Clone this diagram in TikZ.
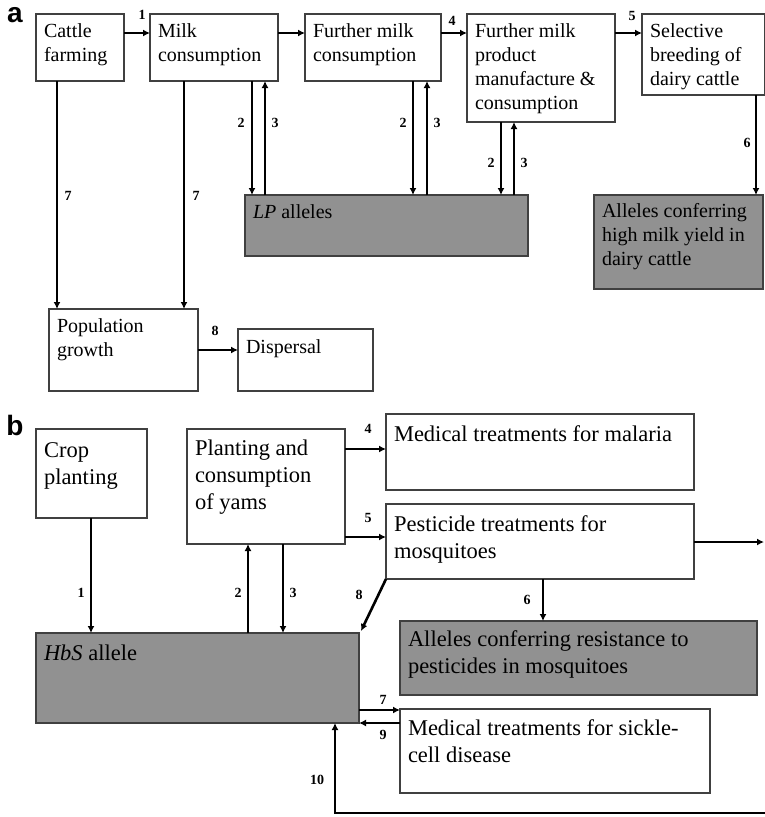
\documentclass[tikz,border=0pt]{standalone}
\usepackage{fontspec}
\setmainfont{Liberation Serif}
\newfontfamily\lblfont{Liberation Sans}
\usetikzlibrary{arrows.meta}
\tikzset{
  bx/.style={draw=black!75, line width=1.6pt, fill=white, anchor=north west, inner xsep=8pt, inner ysep=0pt, outer sep=0pt},
  gbx/.style={bx, fill=black!43},
  fa/.style={font=\fontsize{20}{24.3}\selectfont},
  fb/.style={font=\fontsize{22.5}{27}\selectfont},
  arr/.style={line width=2.6pt, -{Latex[length=7pt,width=7pt]}},
  num/.style={font=\fontsize{14}{14}\selectfont\bfseries, inner sep=0pt},
  panel/.style={font=\lblfont\fontsize{28}{28}\selectfont\bfseries, inner sep=0pt},
}
% name, style, x1, y1, x2, y2, first baseline offset, text
\newcommand\boxnode[8]{%
  \node[#2] (#1) at (#3,#4) {\begin{minipage}[t][\dimexpr #6pt-#4pt\relax][t]{\dimexpr #5pt-#3pt-16pt\relax}\raggedright\rule{0pt}{#7pt}#8\end{minipage}};}
\begin{document}
\begin{tikzpicture}[x={(1pt,0)}, y={(0,-1pt)}]
\useasboundingbox[fill=white] (0,0) rectangle (765,817);

% ---------- panel a ----------
\node[panel] (pa) at (15,15) {a};
\boxnode{cattle}{bx,fa}{36}{14}{124}{81}{23}{Cattle\\farming}
\boxnode{milk}{bx,fa}{150}{14}{278}{81}{23}{Milk\\consumption}
\boxnode{further}{bx,fa}{305}{14}{441}{81}{23}{Further milk\\consumption}
\boxnode{manuf}{bx,fa}{467}{14}{615}{122}{23}{Further milk\\product\\manufacture \&\\consumption}
\boxnode{select}{bx,fa}{642}{14}{765}{95}{23}{Selective\\breeding of\\dairy cattle}
\boxnode{lp}{gbx,fa}{245}{195}{528}{256}{23}{\textit{LP} alleles}
\boxnode{highmilk}{gbx,fa}{594}{195}{763}{289}{22}{Alleles conferring\\high milk yield in\\dairy cattle}
\boxnode{pop}{bx,fa}{49}{309}{198}{391}{23}{Population\\growth}
\boxnode{disp}{bx,fa}{238}{329}{373}{391}{24}{Dispersal}

\draw[arr] (cattle.east |- 0,33) -- (milk.west |- 0,33);
\draw[arr] (milk.east |- 0,33) -- (further.west |- 0,33);
\draw[arr] (further.east |- 0,33) -- (manuf.west |- 0,33);
\draw[arr] (manuf.east |- 0,33) -- (select.west |- 0,33);
\draw[arr] (select.south -| 756,0) -- (highmilk.north -| 756,0);
\draw[arr] (milk.south -| 252,0) -- (lp.north -| 252,0);
\draw[arr] (lp.north -| 265,0) -- (milk.south -| 265,0);
\draw[arr] (further.south -| 413,0) -- (lp.north -| 413,0);
\draw[arr] (lp.north -| 427,0) -- (further.south -| 427,0);
\draw[arr] (manuf.south -| 501,0) -- (lp.north -| 501,0);
\draw[arr] (lp.north -| 514,0) -- (manuf.south -| 514,0);
\draw[arr] (cattle.south -| 57,0) -- (pop.north -| 57,0);
\draw[arr] (milk.south -| 184,0) -- (pop.north -| 184,0);
\draw[arr] (pop.east |- 0,350) -- (disp.west |- 0,350);

\node[num] (a1) at (142,15) {1};
\node[num] (a4) at (452,21) {4};
\node[num] (a5) at (632,16) {5};
\node[num] (a6) at (747,143) {6};
\node[num] (a2x) at (241,123) {2};
\node[num] (a3x) at (275,123) {3};
\node[num] (a2y) at (403,123) {2};
\node[num] (a3y) at (437,123) {3};
\node[num] (a2z) at (491,163) {2};
\node[num] (a3z) at (524,163) {3};
\node[num] (a7x) at (68,196) {7};
\node[num] (a7y) at (196,196) {7};
\node[num] (a8) at (215,331) {8};

% ---------- panel b ----------
\node[panel] (pb) at (15,425) {b};
\boxnode{crop}{bx,fb}{36}{429}{147}{518}{28}{Crop\\planting}
\boxnode{yams}{bx,fb}{187}{429}{345}{544}{26}{Planting and\\consumption\\of yams}
\boxnode{malaria}{bx,fb}{386}{414}{694}{490}{27}{Medical treatments for malaria}
\boxnode{pest}{bx,fb}{386}{504}{694}{579}{27}{Pesticide treatments for\\mosquitoes}
\boxnode{resist}{gbx,fb}{400}{621}{757}{695}{25}{Alleles conferring resistance to\\pesticides in mosquitoes}
\boxnode{hbs}{gbx,fb}{36}{633}{359}{723}{27}{\textit{HbS} allele}
\boxnode{sickle}{bx,fb}{400}{709}{710}{793}{26}{Medical treatments for sickle-\\cell disease}

\coordinate (edgeR) at (764,542);
\coordinate (edgeB) at (765,813);

\draw[arr] (yams.east |- 0,449) -- (malaria.west |- 0,449);
\draw[arr] (yams.east |- 0,537) -- (pest.west |- 0,537);
\draw[arr] (crop.south -| 91,0) -- (hbs.north -| 91,0);
\draw[arr] (hbs.north -| 248,0) -- (yams.south -| 248,0);
\draw[arr] (yams.south -| 283,0) -- (hbs.north -| 283,0);
\draw[arr] (pest.south west) -- ([shift={(2pt,2pt)}]hbs.north east);
\draw[arr] (pest.south -| 543,0) -- (resist.north -| 543,0);
\draw[arr] (pest.east |- edgeR) -- (edgeR);
\draw[arr] (edgeB) -| (hbs.south -| 335,0);
\draw[arr] (hbs.east |- 0,710) -- (sickle.west |- 0,710);
\draw[arr] (sickle.west |- 0,723) -- (hbs.east |- 0,723);

\node[num] (b4) at (368,429) {4};
\node[num] (b5) at (368,518) {5};
\node[num] (b1) at (81,593) {1};
\node[num] (b2) at (238,593) {2};
\node[num] (b3) at (293,593) {3};
\node[num] (b8) at (359,595) {8};
\node[num] (b6) at (527,600) {6};
\node[num] (b7) at (383,700) {7};
\node[num] (b9) at (383,735) {9};
\node[num] (b10) at (317,780) {10};
\end{tikzpicture}
\end{document}
